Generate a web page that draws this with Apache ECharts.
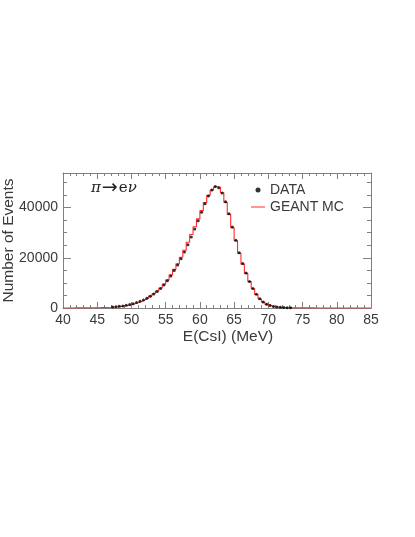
<!DOCTYPE html>
<html>
<head>
<meta charset="utf-8">
<script src="https://cdn.jsdelivr.net/npm/echarts@6/dist/echarts.min.js"></script>
<style>
  html, body { margin: 0; padding: 0; background: #fff; }
  #main { width: 415px; height: 537px; }
</style>
</head>
<body>
<div id="main"></div>
<script>
// bin centres of the E(CsI) histogram, 0.5 MeV wide
var binCenters = [
  40.25, 40.75, 41.25, 41.75, 42.25, 42.75, 43.25, 43.75, 44.25, 44.75,
  45.25, 45.75, 46.25, 46.75, 47.25, 47.75, 48.25, 48.75, 49.25, 49.75,
  50.25, 50.75, 51.25, 51.75, 52.25, 52.75, 53.25, 53.75, 54.25, 54.75,
  55.25, 55.75, 56.25, 56.75, 57.25, 57.75, 58.25, 58.75, 59.25, 59.75,
  60.25, 60.75, 61.25, 61.75, 62.25, 62.75, 63.25, 63.75, 64.25, 64.75,
  65.25, 65.75, 66.25, 66.75, 67.25, 67.75, 68.25, 68.75, 69.25, 69.75,
  70.25, 70.75, 71.25, 71.75, 72.25, 72.75, 73.25, 73.75, 74.25, 74.75,
  75.25, 75.75, 76.25, 76.75, 77.25, 77.75, 78.25, 78.75, 79.25, 79.75,
  80.25, 80.75, 81.25, 81.75, 82.25, 82.75, 83.25, 83.75, 84.25, 84.75
];
var halfBin = 0.25;

// measured counts (DATA); bins with no visible marker are null
var dataCounts = [
  null, null, null, null, null, null, null, null, null, null,
  null, null, null, null, 380, 500, 650, 830, 1050, 1350,
  1700, 2150, 2650, 3200, 3900, 4700, 5600, 6600, 7800, 9200,
  10900, 12800, 14900, 17100, 19600, 22300, 25200, 28300, 31500, 34800,
  38200, 41500, 44600, 47000, 48400, 47900, 45800, 42300, 37600, 32300,
  27000, 22000, 17700, 13900, 10600, 7800, 5500, 3700, 2400, 1500,
  950, 600, 390, 260, 180, 130, 95, null, null, null,
  null, null, null, null, null, null, null, null, null, null,
  null, null, null, null, null, null, null, null, null, null
];

// simulation (GEANT MC)
var mcCounts = [
  20, 20, 25, 30, 40, 45, 55, 70, 85, 105,
  130, 160, 210, 270, 360, 470, 620, 800, 1020, 1320,
  1680, 2100, 2600, 3250, 3950, 4750, 5700, 6750, 8000, 9500,
  11200, 13200, 15400, 17600, 20200, 23000, 26200, 29300, 32400, 35500,
  38800, 42000, 44900, 47000, 48300, 48100, 45900, 42100, 37300, 32000,
  26800, 21800, 17500, 13800, 10500, 7700, 5400, 3600, 2350, 1450,
  920, 580, 380, 250, 170, 120, 90, 65, 50, 40,
  35, 30, 30, 25, 25, 20, 20, 20, 15, 15,
  15, 15, 10, 10, 10, 10, 10, 10, 10, 10
];

var xTicks = [40, 85, 5];          // min, max, step
var yTicks = [0, 53800, 20000];    // min, max, step

var dataPoints = [];
binCenters.forEach(function (c, i) {
  if (dataCounts[i] !== null) dataPoints.push([c, dataCounts[i]]);
});
var mcSteps = binCenters.map(function (c, i) { return [c - halfBin, mcCounts[i]]; });
mcSteps.push([binCenters[binCenters.length - 1] + halfBin, mcCounts[mcCounts.length - 1]]);

var textColor = '#3a3a3a';
var frameColor = '#808080';
var font = 'Liberation Sans';

function xAxisDef(pos, withLabels) {
  return {
    type: 'value', position: pos,
    min: xTicks[0], max: xTicks[1], interval: xTicks[2],
    axisLine: { show: true, onZero: false, lineStyle: { color: frameColor, width: 1 } },
    axisTick: { show: true, inside: true, length: 6, lineStyle: { color: frameColor } },
    minorTick: { show: true, splitNumber: 5, length: 3, lineStyle: { color: frameColor } },
    splitLine: { show: false },
    axisLabel: { show: withLabels, margin: 5, color: textColor, fontSize: 14, fontFamily: font },
    name: withLabels ? 'E(CsI) (MeV)' : '',
    nameLocation: 'middle', nameGap: 21, nameMoveOverlap: false,
    nameTextStyle: { color: textColor, fontSize: 15.5, fontFamily: font, padding: [0, 0, 0, 22] }
  };
}

function yAxisDef(pos, withLabels) {
  return {
    type: 'value', position: pos,
    min: yTicks[0], max: yTicks[1], interval: yTicks[2],
    axisLine: { show: true, onZero: false, lineStyle: { color: frameColor, width: 1 } },
    axisTick: { show: true, inside: true, length: 8, lineStyle: { color: frameColor } },
    minorTick: { show: true, splitNumber: 4, length: 4, lineStyle: { color: frameColor } },
    splitLine: { show: false },
    axisLabel: {
      show: withLabels, margin: 5, color: textColor, fontSize: 14, fontFamily: font,
      formatter: function (v) { return v % yTicks[2] === 0 ? String(v) : ''; }
    },
    name: withLabels ? 'Number of Events' : '',
    nameLocation: 'middle', nameGap: 46, nameMoveOverlap: false,
    nameTextStyle: { color: textColor, fontSize: 15.5, fontFamily: font }
  };
}

var myChart = echarts.init(document.getElementById('main'), null, { renderer: 'canvas' });

myChart.setOption({
  backgroundColor: '#fff',
  animation: false,
  grid: { left: 63, right: 44, top: 173, bottom: 229, containLabel: false, outerBoundsMode: 'none' },
  xAxis: [xAxisDef('bottom', true), xAxisDef('top', false)],
  yAxis: [yAxisDef('left', true), yAxisDef('right', false)],
  legend: {
    orient: 'vertical', left: 246, top: 178,
    itemWidth: 14, itemHeight: 5, itemGap: 3,
    textStyle: { color: textColor, fontSize: 14, fontFamily: font },
    data: [
      { name: 'DATA', icon: 'circle' },
      { name: 'GEANT MC', icon: 'path://M0,0 L14,0 L14,1 L0,1 Z' }
    ]
  },
  graphic: [{
    type: 'text', left: 91, top: 179,
    style: {
      text: '{g|π}{a|→}{r|e}{g|ν}',
      fill: '#222',
      rich: {
        g: { fontSize: 15, fontFamily: 'DejaVu Serif', fontStyle: 'italic', fill: '#222' },
        a: { fontSize: 19, fontFamily: 'DejaVu Sans', fill: '#222', padding: [0, 1, 0, 1] },
        r: { fontSize: 15, fontFamily: 'DejaVu Serif', fill: '#222' }
      }
    }
  }],
  series: [
    {
      name: 'GEANT MC', type: 'line', step: 'end',
      xAxisIndex: 0, yAxisIndex: 0,
      data: mcSteps, symbol: 'none',
      lineStyle: { color: '#ff2a2a', width: 1.1 },
      itemStyle: { color: '#ff2a2a' },
      z: 2
    },
    {
      name: 'DATA', type: 'scatter',
      xAxisIndex: 0, yAxisIndex: 0,
      data: dataPoints, symbol: 'circle', symbolSize: 3,
      itemStyle: { color: '#000' },
      z: 3
    }
  ]
});
</script>
</body>
</html>
